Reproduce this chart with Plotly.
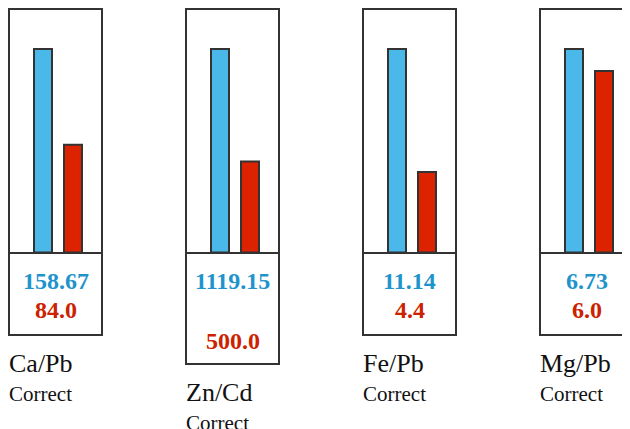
import plotly.graph_objects as go

# ---- data ----
ratios = ["Ca/Pb", "Zn/Cd", "Fe/Pb", "Mg/Pb"]
status = ["Correct", "Correct", "Correct", "Correct"]
measured = [158.67, 1119.15, 11.14, 6.73]
reference = [84.0, 500.0, 4.4, 6.0]
measured_labels = ["158.67", "1119.15", "11.14", "6.73"]
reference_labels = ["84.0", "500.0", "4.4", "6.0"]

# ---- geometry (page pixels; the page body adds an 8px offset) ----
PAGE_OFF = 8
W, H = 630 - PAGE_OFF, 429 - PAGE_OFF
PITCH = 177.0
C0 = 55.5
BOX_HALF = 46.5
BOX_TOP = 9.0
BASE = 252.5
BOX_BOTTOM = [335, 364, 335, 335]
RED_TEXT_Y = [310, 340.5, 310, 310]
BAR_W = 18.0
BLUE_L = -21.5
RED_L = 8.5
BAR_TOP = 49.0

BLUE_FILL = "#4AB9E9"
RED_FILL = "#DD2200"
BLUE_TEXT = "#1F94CC"
RED_TEXT = "#CC2200"
EDGE = "#333333"
FONT = "Liberation Serif"

top_frac = (BASE - BAR_TOP) / (BASE - BOX_TOP)


def py(px):
    return 1 - (px - PAGE_OFF) / H


fig = go.Figure()
for i in range(len(ratios)):
    yname = "y" if i == 0 else f"y{i+1}"
    fig.add_trace(go.Bar(x=[i], y=[measured[i]], yaxis=yname,
                         width=BAR_W / PITCH, offset=BLUE_L / PITCH,
                         marker=dict(color=BLUE_FILL, line=dict(color=EDGE, width=2)),
                         hoverinfo="skip"))
    fig.add_trace(go.Bar(x=[i], y=[reference[i]], yaxis=yname,
                         width=BAR_W / PITCH, offset=RED_L / PITCH,
                         marker=dict(color=RED_FILL, line=dict(color=EDGE, width=2)),
                         hoverinfo="skip"))

shapes = []
annotations = []
for i in range(len(ratios)):
    x0 = i - BOX_HALF / PITCH
    x1 = i + BOX_HALF / PITCH
    shapes.append(dict(type="rect", xref="x", yref="paper", x0=x0, x1=x1,
                       y0=py(BOX_BOTTOM[i]), y1=py(BOX_TOP),
                       line=dict(color=EDGE, width=2), layer="above"))
    shapes.append(dict(type="line", xref="x", yref="paper", x0=x0, x1=x1,
                       y0=py(BASE + 0.5), y1=py(BASE + 0.5),
                       line=dict(color=EDGE, width=2), layer="above"))
    annotations.append(dict(x=i, y=py(281), xref="x", yref="paper",
                            text=f"<b>{measured_labels[i]}</b>", showarrow=False,
                            xanchor="center", yanchor="middle",
                            font=dict(family=FONT, size=24, color=BLUE_TEXT)))
    annotations.append(dict(x=i, y=py(RED_TEXT_Y[i]), xref="x", yref="paper",
                            text=f"<b>{reference_labels[i]}</b>", showarrow=False,
                            xanchor="center", yanchor="middle",
                            font=dict(family=FONT, size=24, color=RED_TEXT)))
    off = BOX_BOTTOM[i] - 335
    annotations.append(dict(x=x0, y=py(363.5 + off), xref="x", yref="paper",
                            text=ratios[i], showarrow=False, xshift=-2,
                            xanchor="left", yanchor="middle",
                            font=dict(family=FONT, size=26, color="#111111")))
    annotations.append(dict(x=x0, y=py(394 + off), xref="x", yref="paper",
                            text=status[i], showarrow=False, xshift=-2,
                            xanchor="left", yanchor="middle",
                            font=dict(family=FONT, size=21, color="#111111")))

layout = dict(
    width=W, height=H,
    margin=dict(l=0, r=0, t=0, b=0),
    paper_bgcolor="white", plot_bgcolor="rgba(0,0,0,0)",
    showlegend=False,
    xaxis=dict(range=[(PAGE_OFF - C0) / PITCH, (PAGE_OFF + W - C0) / PITCH],
               visible=False, domain=[0, 1], fixedrange=True),
    shapes=shapes, annotations=annotations,
)
for i in range(len(ratios)):
    top = max(measured[i], reference[i]) / top_frac
    ax = dict(range=[0, top], visible=False, domain=[py(BASE), py(BOX_TOP)],
              fixedrange=True)
    if i == 0:
        layout["yaxis"] = ax
    else:
        ax["overlaying"] = "y"
        layout[f"yaxis{i+1}"] = ax

fig.update_layout(**layout)
fig.write_html("out.html")
